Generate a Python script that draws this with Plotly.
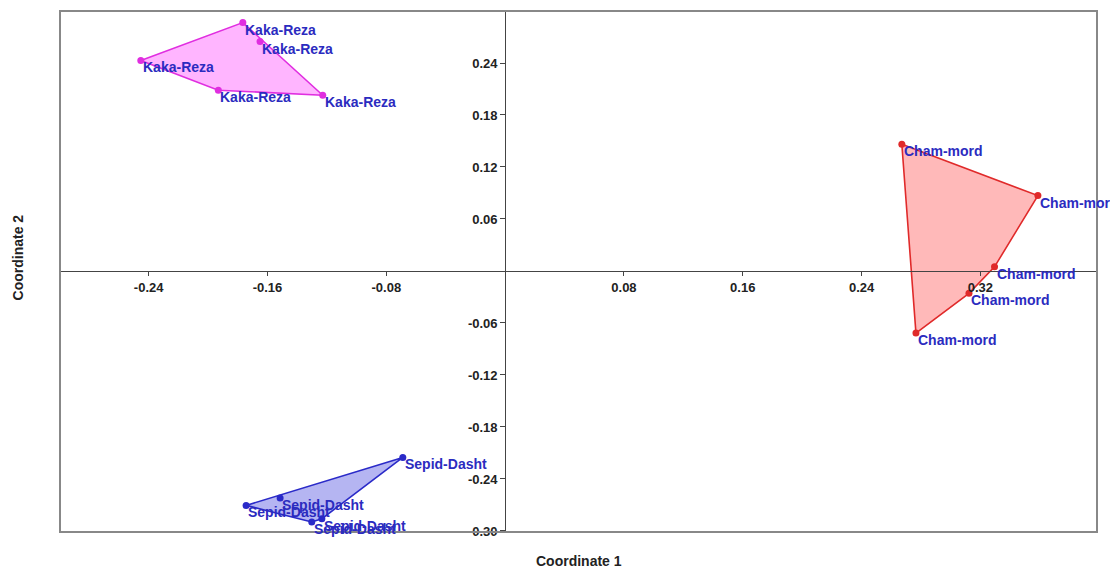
import plotly.graph_objects as go

# ---- data ----
kaka_x = [-0.2453, -0.1766, -0.1650, -0.1228, -0.1931]
kaka_y = [0.2430, 0.2866, 0.2648, 0.2028, 0.2086]

cham_x = [0.2671, 0.3587, 0.3295, 0.3123, 0.2766]
cham_y = [0.1463, 0.0870, 0.0048, -0.0258, -0.0717]

sepid_x = [-0.0689, -0.1744, -0.1515, -0.1302, -0.1234]
sepid_y = [-0.2151, -0.2705, -0.2621, -0.2897, -0.2859]

x_ticks = [-0.24, -0.16, -0.08, 0.08, 0.16, 0.24, 0.32]
y_ticks = [-0.30, -0.24, -0.18, -0.12, -0.06, 0.06, 0.12, 0.18, 0.24]

X_RANGE = [-0.2997, 0.3985]
Y_RANGE = [-0.3012, 0.300]

groups = [
    ("Kaka-Reza", kaka_x, kaka_y, "#e02ee0", "rgba(255,60,255,0.38)"),
    ("Cham-mord", cham_x, cham_y, "#e02a2a", "rgba(255,60,60,0.36)"),
    ("Sepid-Dasht", sepid_x, sepid_y, "#2a2ac8", "rgba(60,60,220,0.38)"),
]
LABEL_COLOR = "#2b2bbf"
FONT = "Liberation Sans, Arial, sans-serif"


def convex_hull(xs, ys):
    pts = sorted(set(zip(xs, ys)))
    if len(pts) <= 2:
        return pts

    def cross(o, a, b):
        return (a[0] - o[0]) * (b[1] - o[1]) - (a[1] - o[1]) * (b[0] - o[0])

    lower = []
    for p in pts:
        while len(lower) >= 2 and cross(lower[-2], lower[-1], p) <= 0:
            lower.pop()
        lower.append(p)
    upper = []
    for p in reversed(pts):
        while len(upper) >= 2 and cross(upper[-2], upper[-1], p) <= 0:
            upper.pop()
        upper.append(p)
    return lower[:-1] + upper[:-1]


fig = go.Figure()
annotations = []

for name, xs, ys, line_c, fill_c in groups:
    hull = convex_hull(xs, ys)
    hx = [p[0] for p in hull] + [hull[0][0]]
    hy = [p[1] for p in hull] + [hull[0][1]]
    fig.add_trace(go.Scatter(
        x=hx, y=hy, mode="lines", fill="toself", fillcolor=fill_c,
        line=dict(color=line_c, width=1.6), hoverinfo="skip", showlegend=False,
    ))
    fig.add_trace(go.Scatter(
        x=xs, y=ys, mode="markers", cliponaxis=False,
        marker=dict(color=line_c, size=7), showlegend=False, name=name,
    ))
    for x, y in zip(xs, ys):
        annotations.append(dict(
            x=x, y=y, xref="x", yref="y", text=name, showarrow=False,
            xanchor="left", yanchor="middle", xshift=0, yshift=-7,
            font=dict(family=FONT, size=14, color=LABEL_COLOR, weight="bold"),
        ))

yfrac = (0 - Y_RANGE[0]) / (Y_RANGE[1] - Y_RANGE[0])
xfrac = (0 - X_RANGE[0]) / (X_RANGE[1] - X_RANGE[0])

tick_font = dict(family=FONT, size=13, color="#222222", weight="bold")
title_font = dict(family=FONT, size=14, color="#222222", weight="bold")

annotations += [
    dict(text="Coordinate 1", xref="paper", yref="paper", x=0.5, y=-0.056,
         showarrow=False, yanchor="middle", font=title_font),
    dict(text="Coordinate 2", xref="paper", yref="paper", x=-0.0405, y=0.527,
         showarrow=False, textangle=-90, xanchor="center", font=title_font),
]

# the page body has an 8px margin, so the figure is sized/offset to compensate
fig.update_layout(
    width=1110, height=561,
    margin=dict(l=52, r=21, t=3, b=37, autoexpand=False),
    paper_bgcolor="white", plot_bgcolor="white",
    xaxis=dict(
        range=X_RANGE, showgrid=False, zeroline=False, automargin=False,
        anchor="free", position=yfrac, side="bottom",
        showline=True, linecolor="#444444", linewidth=1,
        ticks="outside", ticklen=4, tickcolor="#444444",
        tickvals=x_ticks, ticktext=[f"{v:.2f}" for v in x_ticks],
        tickfont=tick_font,
    ),
    yaxis=dict(
        range=Y_RANGE, showgrid=False, zeroline=False, automargin=False,
        anchor="free", position=xfrac, side="left",
        showline=True, linecolor="#444444", linewidth=1,
        ticks="outside", ticklen=5, tickcolor="#444444",
        tickvals=y_ticks, ticktext=[f"{v:.2f}" for v in y_ticks],
        tickfont=tick_font,
    ),
    shapes=[dict(type="rect", xref="paper", yref="paper", x0=0, y0=0, x1=1, y1=1,
                 line=dict(color="#888888", width=2), layer="above")],
    annotations=annotations,
)

fig.write_html("out.html")
